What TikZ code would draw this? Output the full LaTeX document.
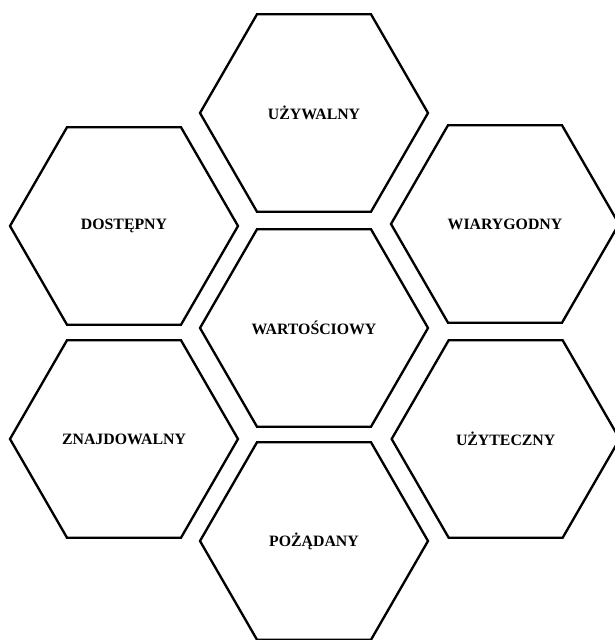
\documentclass[tikz,border=0pt]{standalone}
\usepackage{fontspec}
\setmainfont{Liberation Serif}
\usetikzlibrary{shapes.geometric}

\begin{document}
\begin{tikzpicture}[
        hexa/.style={draw, regular polygon, regular polygon sides=6, minimum size=6.84cm, line width=2pt, inner sep=0pt},
        label text/.style={font=\fontsize{13.5}{15}\selectfont\bfseries},
    ]

    % Page frame
    \useasboundingbox (0,0) rectangle (18.42,19.2);

    % Middle column
    \node[hexa, label text] (uzywalny) at (9.42,15.81) {UŻYWALNY};
    \node[hexa, label text] (wartosciowy) at (9.42,9.36) {WARTOŚCIOWY};
    \node[hexa, label text] (pozadany) at (9.42,2.97) {POŻĄDANY};

    % Left column
    \node[hexa, label text] (dostepny) at (3.72,12.42) {DOSTĘPNY};
    \node[hexa, label text] (znajdowalny) at (3.72,6.03) {ZNAJDOWALNY};

    % Right column
    \node[hexa, label text] (wiarygodny) at (15.15,12.48) {WIARYGODNY};
    \node[hexa, label text] (uzyteczny) at (15.17,6.03) {UŻYTECZNY};

\end{tikzpicture}
\end{document}
